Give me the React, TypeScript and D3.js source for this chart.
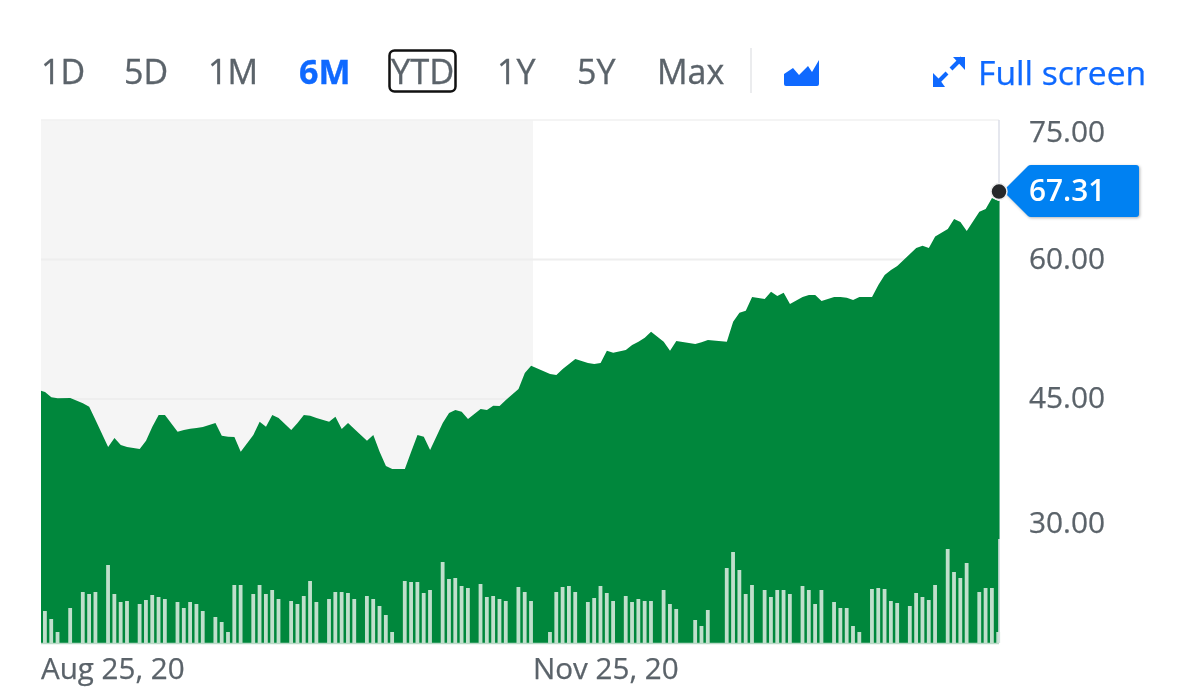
import React from "react";
import * as d3 from "d3";

// One entry per chart slot (slot -1 first); null = no trading / no bar in that slot.
const N = null;
const closes: (number | null)[] = [
  45.97,
  45.75, 45.18, 45.08, N, 45.11, N, 44.54, 44.17, 42.74, N,
  39.84, 40.81, 40.05, 39.84, N, 39.62, 40.52, 42.02, 43.28, 43.28, N,
  41.48, 41.67, 41.81, 41.88, 41.99, N, 42.42, 41.05, 40.95, 40.91, 39.33, N,
  41.13, 42.56, 42.02, 43.28, 42.96, N, 41.67, 42.42, 43.28, 43.2, 42.96, N,
  42.56, 43.1, 41.77, 42.42, 41.77, N, 40.52, 41.13, 39.33, 37.8, 37.47, N,
  37.47, 39.33, 41.13, 40.95, 39.52, N, 42.42, 43.49, 43.82, 43.63, 42.85, N,
  43.92, 43.82, 44.28, 44.25, 44.89, N, 46.08, 47.8, 48.58, N, N, 47.69, 47.58, 48.23, 48.76, 49.3, N,
  48.87, 48.76, 48.87, 50.19, 49.98, N, 50.27, 50.81, 51.16, 51.59, 52.24, N,
  51.16, 50.19, 51.24, N, N, 50.91, 51.1, 51.34, N, N, 51.16, 53.31, 54.28, 54.49, 55.97, N,
  55.75, 56.54, 56.08, 56.43, 55.22, N, 55.97, 56.18, 56.18, 55.54, N,
  55.97, 55.97, 55.89, 55.65, 55.97, N, 55.97, 57.26, 58.33, 58.87, 59.3, N,
  60.59, 61.24, 61.48, 61.24, 62.46, N, 63.28, 64.35, 64.03, 63.06, N, 65.14, 65.43, 66.61, 66.29,
];
const volumes: (number | null)[] = [
  N,
  32, 24, 11, N, 35, N, 51, 49, 51, N,
  78, 49, 41, 42, N, 39, 43, 48, 46, 44, N,
  41, 35, 41, 39, 32, N, 26, 21, 11, 58, 58, N,
  49, 58, 49, 53, 44, N, 42, 39, 47, 62, 41, N,
  44, 51, 51, 50, 44, N, 47, 44, 37, 28, 11, N,
  62, 61, 61, 50, 53, N, 81, 64, 65, 57, 55, N,
  59, 46, 47, 44, 42, N, 56, 51, 42, N, N, 11, 51, 56, 57, 51, N,
  41, 45, 57, 50, 42, N, 47, 41, 44, 42, 42, N,
  53, 39, 34, N, N, 23, 17, 33, N, N, 75, 91, 73, 49, 58, N,
  53, 46, 53, 53, 49, N, 57, 53, 39, 53, N,
  41, 35, 35, 17, 11, N, 54, 55, 54, 42, 40, N,
  37, 50, 46, 43, 58, N, 94, 71, 65, 80, N, 51, 55, 55, 11,
];
const lastSessionVolume = 104;
const lastPrice = 67.31;
const priceTicks = [75, 60, 45, 30];
const priceLabelY = [142, 269, 408, 533];
const dateLabels = ["Aug 25, 20", "Nov 25, 20"];
const ranges = ["1D", "5D", "1M", "6M", "YTD", "1Y", "5Y", "Max"];
const rangeLefts = [41, 124, 208, 299, 391, 497, 577, 657];

const W = 1200, H = 698;
const left = 41, right = 999, top = 120, bottom = 643, bandEnd = 533;
const FONT = "'Open Sans', sans-serif";
const GREY = "#5b636a", BLUE = "#0f69ff";

const x = d3.scaleLinear().domain([-1, 151]).range([38.7, 998.3]);
const y = d3.scaleLinear().domain([75, 18.76]).range([top, bottom]);
const v = d3.scaleLinear().domain([0, 100]).range([bottom, bottom - 100]);

const pts = closes
  .map((c, p) => ({ slot: p - 1, c }))
  .filter((d) => d.c !== null) as { slot: number; c: number }[];
const lastPt = pts[pts.length - 1];
const area = d3
  .area<{ slot: number; c: number }>()
  .x((d) => x(d.slot))
  .y0(bottom)
  .y1((d) => y(d.c));

export default function App() {
  return (
    <svg
      width={W}
      height={H}
      style={{ position: "absolute", left: 0, top: 0, filter: "blur(0.7px)" }}
      fontFamily={FONT}
    >
      <defs>
        <clipPath id="plot">
          <rect x={left} y={top} width={right - left + 0.5} height={bottom - top} />
        </clipPath>
      </defs>
      <rect width={W} height={H} fill="#fff" />

      {/* range selector */}
      {ranges.map((r, i) => (
        <text
          key={r}
          x={rangeLefts[i]}
          y={83.5}
          fontSize={r === "YTD" ? 34.5 : 34}
          fontWeight={r === "6M" ? 700 : 400}
          fill={r === "6M" ? BLUE : GREY}
          stroke={r === "6M" ? BLUE : GREY}
          strokeWidth={0.35}
        >
          {r}
        </text>
      ))}
      <rect x={389.5} y={50.5} width={66} height={41} rx={5} fill="none" stroke="#111" strokeWidth={2.5} />
      <line x1={751} x2={751} y1={48} y2={93} stroke="#e4e6e9" strokeWidth={1.5} />
      <path d="M784,74 L793,68 L799,75 L808,66 L812,72 L819,60 V84 Q819,86 817,86 H786 Q784,86 784,84 Z" fill={BLUE} />

      {/* full screen */}
      <g stroke={BLUE} strokeWidth={4} fill="none">
        <path d="M936,84 L947,73" />
        <path d="M951,69 L962,58" />
      </g>
      <path d="M933,73 L940,80 L945,87 H933 Z" fill={BLUE} />
      <path d="M953,57 H965 V70 Z" fill={BLUE} />
      <text x={978} y={85} fontSize={33.7} fill={BLUE} stroke={BLUE} strokeWidth={0.25}>Full screen</text>

      {/* plot */}
      <rect x={left} y={top} width={bandEnd - left} height={bottom - top} fill="#f5f5f5" />
      <line x1={left} x2={right} y1={top} y2={top} stroke="#f0f0f0" strokeWidth={1.5} />
      {priceTicks.slice(1, 3).map((t) => (
        <line key={t} x1={left} x2={right} y1={y(t)} y2={y(t)} stroke="#eeeeee" strokeWidth={2} />
      ))}
      <line x1={right} x2={right} y1={top} y2={bottom} stroke="#dcdfe8" strokeWidth={1.5} />
      <path
        d={area([...pts, { slot: lastPt.slot + 0.3, c: lastPt.c }]) ?? ""}
        fill="#00873c"
        clipPath="url(#plot)"
      />
      {volumes.map((d, p) =>
        d === null ? null : (
          <rect
            key={p}
            x={x(p - 1) - 2}
            y={v(d)}
            width={3.8}
            height={bottom - v(d)}
            fill="#c0dfcc"
          />
        )
      )}
      <rect
        x={right - 0.8}
        y={v(lastSessionVolume)}
        width={1.8}
        height={bottom - v(lastSessionVolume)}
        fill="#d5dfe0"
      />
      <line x1={left} x2={right} y1={bottom + 0.5} y2={bottom + 0.5} stroke="#b9d9c6" strokeWidth={1.5} />

      {/* price axis */}
      {priceTicks.map((t, i) => (
        <text key={t} x={1029} y={priceLabelY[i]} fontSize={29.8} fill={GREY} stroke={GREY} strokeWidth={0.25}>
          {t.toFixed(2)}
        </text>
      ))}

      {/* last price */}
      <path
        d="M1003,191 L1028,166 Q1029,165 1031,165 H1136 Q1139,165 1139,168 V214 Q1139,217 1136,217 H1031 Q1029,217 1028,216 Z"
        fill="#0081f2"
        style={{ filter: "drop-shadow(1px 1px 1.5px rgba(0,0,0,0.3))" }}
      />
      <text x={1029} y={201} fontSize={29.8} fontWeight={600} fill="#fff">{lastPrice.toFixed(2)}</text>
      <circle cx={x(151) + 0.7} cy={y(lastPrice)} r={8} fill="#26282a" stroke="#eee" strokeWidth={1.5} />

      {/* date axis */}
      <text x={41} y={679} fontSize={29.6} fill={GREY} stroke={GREY} strokeWidth={0.25}>{dateLabels[0]}</text>
      <text x={533} y={679} fontSize={29.6} fill={GREY} stroke={GREY} strokeWidth={0.25}>{dateLabels[1]}</text>
    </svg>
  );
}
